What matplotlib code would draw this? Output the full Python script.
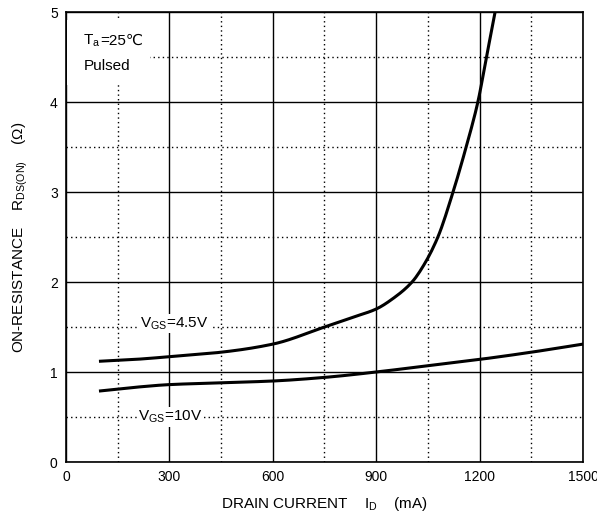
import numpy as np
import matplotlib.pyplot as plt
from matplotlib.patches import Rectangle

plt.rcParams['font.family'] = ['Liberation Sans', 'DejaVu Sans']

# drain current (mA) and on-resistance (ohm)
id_45 = [100, 200, 300, 450, 600, 750, 825, 900, 950, 1004, 1040, 1079, 1123, 1161, 1195, 1220, 1245]
rds_45 = [1.12, 1.14, 1.17, 1.22, 1.31, 1.50, 1.60, 1.70, 1.82, 2.00, 2.20, 2.50, 3.00, 3.50, 4.00, 4.50, 5.00]

id_10 = [100, 200, 300, 450, 600, 750, 900, 1050, 1200, 1350, 1500]
rds_10 = [0.79, 0.83, 0.86, 0.88, 0.90, 0.94, 1.00, 1.07, 1.14, 1.22, 1.31]

x_ticks = [0, 300, 600, 900, 1200, 1500]
y_ticks = [0, 1, 2, 3, 4, 5]


def smooth(x, y, n=200):
    # monotone cubic (PCHIP style) through the read points
    x = np.asarray(x, float)
    y = np.asarray(y, float)
    h = np.diff(x)
    d = np.diff(y) / h
    m = np.zeros_like(x)
    for k in range(1, len(x) - 1):
        if d[k - 1] * d[k] > 0:
            w1 = 2 * h[k] + h[k - 1]
            w2 = h[k] + 2 * h[k - 1]
            m[k] = (w1 + w2) / (w1 / d[k - 1] + w2 / d[k])
    m[0] = d[0]
    m[-1] = d[-1]
    xs = np.linspace(x[0], x[-1], n)
    idx = np.clip(np.searchsorted(x, xs) - 1, 0, len(x) - 2)
    t = (xs - x[idx]) / h[idx]
    h00 = 2 * t**3 - 3 * t**2 + 1
    h10 = t**3 - 2 * t**2 + t
    h01 = -2 * t**3 + 3 * t**2
    h11 = t**3 - t**2
    ys = h00 * y[idx] + h10 * h[idx] * m[idx] + h01 * y[idx + 1] + h11 * h[idx] * m[idx + 1]
    return xs, ys


fig = plt.figure(figsize=(5.97, 5.18), dpi=100)
ax = fig.add_axes([0.1106, 0.1081, 0.8659, 0.8687])

ax.set_xlim(0, 1500)
ax.set_ylim(0, 5)
ax.set_xticks(x_ticks)
ax.set_yticks(y_ticks)
ax.set_xticks([150, 450, 750, 1050, 1350], minor=True)
ax.set_yticks([0.5, 1.5, 2.5, 3.5, 4.5], minor=True)
ax.tick_params(which='both', length=0, labelsize=10, pad=6)
ax.grid(which='major', color='black', lw=1.0)
ax.grid(which='minor', color='black', lw=1.0, linestyle=(0, (1, 2.3)))
for s in ax.spines.values():
    s.set_linewidth(1.2)

xs, ys = smooth(id_45, rds_45)
ax.plot(xs, ys, color='black', lw=2.2, zorder=3)
xs, ys = smooth(id_10, rds_10)
ax.plot(xs, ys, color='black', lw=2.2, zorder=3)

# white area behind the conditions note (grid is blanked there)
ax.add_patch(Rectangle((4, 4.19), 240, 0.72, facecolor='white', edgecolor='none', zorder=2))

box = dict(facecolor='white', edgecolor='none', pad=1)
ax.text(215, 1.54, r'V$\mathregular{_{GS}}$=4.5V', fontsize=11, va='center', bbox=box, zorder=4)
ax.text(210, 0.50, r'V$\mathregular{_{GS}}$=10V', fontsize=11, va='center', bbox=box, zorder=4)
t_a = ax.text(50, 4.68, r'T$\mathregular{_a}$', fontsize=11, va='center', zorder=4)
ax.annotate('=25℃', xy=(1, 0.5), xycoords=t_a, va='center', fontsize=11, zorder=4)
ax.text(50, 4.40, 'Pulsed', fontsize=11, va='center', zorder=4)

ax.set_xlabel(r'DRAIN CURRENT    I$\mathregular{_D}$    (mA)', fontsize=11, labelpad=8)
ax.set_ylabel(r'ON-RESISTANCE    R$\mathregular{_{DS(ON)}}$    (Ω)', fontsize=11, labelpad=14)

fig.savefig('out.png', dpi=100)
